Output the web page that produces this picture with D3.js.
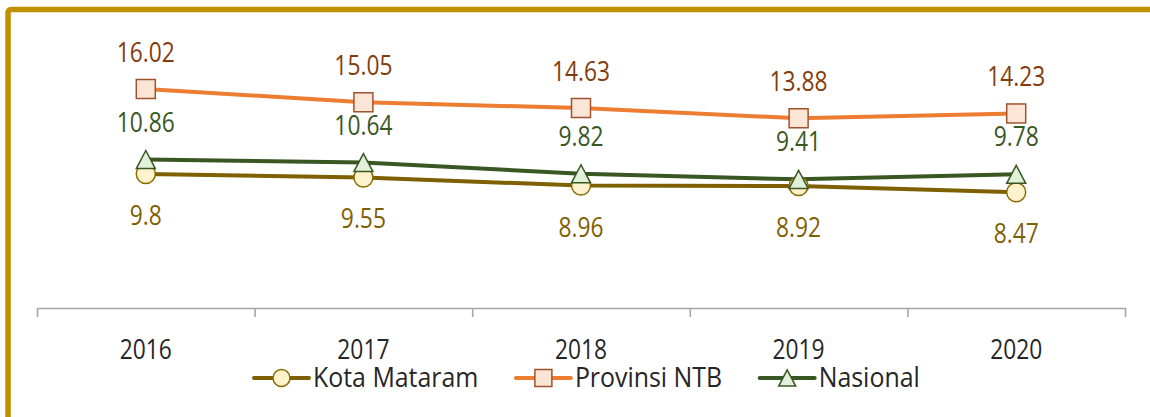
<!DOCTYPE html>
<html>
<head>
<meta charset="utf-8">
<script src="https://cdn.jsdelivr.net/npm/d3@7"></script>
<style>
  body { margin: 0; background: #fff; }
  svg { display: block; font-family: "Open Sans", "Noto Sans", sans-serif; }
</style>
</head>
<body>
<svg width="1150" height="417"></svg>
<script>
var years = ["2016", "2017", "2018", "2019", "2020"];
var kotaMataram = [9.8, 9.55, 8.96, 8.92, 8.47];
var provinsiNTB = [16.02, 15.05, 14.63, 13.88, 14.23];
var nasional = [10.86, 10.64, 9.82, 9.41, 9.78];

var series = [
  {name: "Kota Mataram", values: kotaMataram, line: "#7f6000", fill: "#fff2cc", edge: "#8a6a00", label: "#7f6000", shape: "circle", dy: 51},
  {name: "Provinsi NTB", values: provinsiNTB, line: "#ed7d31", fill: "#fbe5d6", edge: "#a0522d", label: "#843c0c", shape: "square", dy: -27},
  {name: "Nasional", values: nasional, line: "#385723", fill: "#e2f0d9", edge: "#385723", label: "#385723", shape: "triangle", dy: -28}
];

var svg = d3.select("svg"),
    left = 37, right = 1125, axisY = 308,
    sx = 0.86, sxLegend = 0.94;

// frame
svg.append("rect")
    .attr("x", 8).attr("y", 9.5)
    .attr("width", 1300).attr("height", 600)
    .attr("rx", 3)
    .attr("fill", "none")
    .attr("stroke", "#bf9000")
    .attr("stroke-width", 5.5);

var x = d3.scalePoint().domain(years).range([left, right]).padding(0.5);
var xEdge = d3.scaleLinear().domain([0, years.length]).range([left, right]);
var y = d3.scaleLinear().domain([0, 20]).range([axisY, 34.6]);

function marker(sel, shape, size) {
  if (shape === "circle") {
    sel.append("circle").attr("r", size / 2);
  } else if (shape === "square") {
    sel.append("rect").attr("x", -size / 2).attr("y", -size / 2).attr("width", size).attr("height", size);
  } else {
    var h = size * 0.95;
    sel.append("path").attr("d", "M0," + (-h / 2) + "L" + (size / 2) + "," + (h / 2) + "L" + (-size / 2) + "," + (h / 2) + "Z");
  }
}

// axis
var ax = svg.append("g")
    .attr("transform", "translate(0," + axisY + ")")
    .call(d3.axisBottom(xEdge).ticks(years.length).tickFormat("").tickSizeInner(9).tickSizeOuter(0));
ax.select(".domain").attr("stroke", "#a6a6a6").attr("stroke-width", 1.6);
ax.selectAll(".tick line").attr("stroke", "#a6a6a6").attr("stroke-width", 1.6);

svg.append("g").selectAll("text")
    .data(years)
  .enter().append("text")
    .attr("transform", function(d) { return "translate(" + x(d) + "," + (axisY + 51) + ") scale(" + sx + ",1)"; })
    .attr("text-anchor", "middle")
    .attr("font-size", 26.5)
    .attr("fill", "#262626")
    .text(function(d) { return d; });

var line = d3.line()
    .x(function(d, i) { return x(years[i]); })
    .y(function(d) { return y(d); });

// lines (draw orange, green, then brown)
[1, 2, 0].forEach(function(k) {
  var s = series[k];
  svg.append("path")
      .datum(s.values)
      .attr("fill", "none")
      .attr("stroke", s.line)
      .attr("stroke-width", 4)
      .attr("stroke-linejoin", "round")
      .attr("d", line);
});

// markers: circles first, then squares and triangles on top
[0, 1, 2].forEach(function(k) {
  var s = series[k];
  var g = svg.append("g").selectAll("g")
      .data(s.values)
    .enter().append("g")
      .attr("transform", function(d, i) { return "translate(" + x(years[i]) + "," + y(d) + ")"; })
      .attr("fill", s.fill)
      .attr("stroke", s.edge)
      .attr("stroke-width", 1.5);
  g.each(function() { marker(d3.select(this), s.shape, 19); });
});

// data labels
series.forEach(function(s) {
  svg.append("g").selectAll("text")
      .data(s.values)
    .enter().append("text")
      .attr("transform", function(d, i) { return "translate(" + x(years[i]) + "," + (y(d) + s.dy) + ") scale(" + sx + ",1)"; })
      .attr("text-anchor", "middle")
      .attr("font-size", 26.5)
      .attr("fill", s.label)
      .text(function(d) { return d; });
});

// legend
var legend = svg.append("g").attr("transform", "translate(0,378)");
var pos = 254;
series.forEach(function(s) {
  var it = legend.append("g").attr("transform", "translate(" + pos + ",0)");
  it.append("line")
      .attr("x1", 0).attr("x2", 55)
      .attr("stroke", s.line).attr("stroke-width", 4).attr("stroke-linecap", "round");
  var m = it.append("g").attr("transform", "translate(27.5,0)")
      .attr("fill", s.fill).attr("stroke", s.edge).attr("stroke-width", 1.5);
  marker(m, s.shape, 17);
  var t = it.append("text")
      .attr("transform", "translate(59,9) scale(" + sxLegend + ",1)")
      .attr("font-size", 26.5)
      .attr("fill", "#262626")
      .text(s.name);
  pos += 59 + t.node().getComputedTextLength() * sxLegend + 37.5;
});
</script>
</body>
</html>
